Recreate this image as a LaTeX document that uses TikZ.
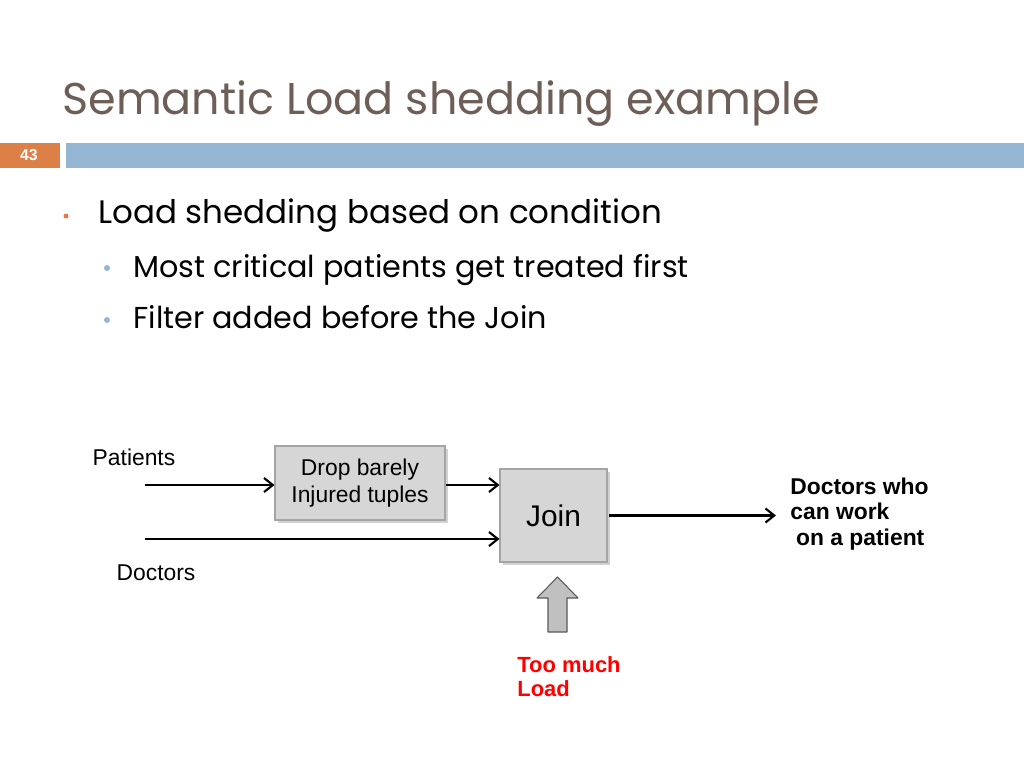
\documentclass[tikz,border=0pt]{standalone}
\usepackage{fontspec}
\setmainfont{Liberation Sans}
\newfontfamily\slidefont[Ligatures={NoCommon,NoRequired}]{Poppins}
\usepackage{xcolor}
\usepackage{tikz}
\usetikzlibrary{arrows.meta,shadows}
\definecolor{titlecolor}{RGB}{110,94,88}
\definecolor{pagecolor}{RGB}{221,128,71}
\definecolor{barcolor}{RGB}{148,182,210}
\definecolor{boxfill}{RGB}{214,214,214}
\definecolor{boxline}{RGB}{165,165,165}
\definecolor{loadfill}{RGB}{192,192,192}
\definecolor{loadline}{RGB}{90,90,90}
\tikzset{opnode/.style={draw=boxline,fill=boxfill,line width=0.6pt,align=center,inner sep=0pt,
		drop shadow={shadow xshift=1.5pt,shadow yshift=-1.5pt,opacity=0.35}}}
\tikzset{flow/.style={line width=1.2pt,-{Straight Barb[length=5pt,width=8pt,line width=1.2pt]}}}
\tikzset{streamlabel/.style={font=\fontsize{13}{15}\selectfont,inner sep=0pt}}
\tikzset{bullettext/.style={anchor=base west,inner sep=0pt}}

\begin{document}
\begin{tikzpicture}[x=0.02cm,y=-0.02cm]
		\useasboundingbox[fill=white] (0,0) rectangle (1024,768);
		%
		\node[bullettext,text=titlecolor,font=\slidefont\fontsize{25.3}{28}\selectfont] (title) at (62,114) {Semantic Load shedding example};
		\fill[pagecolor] (0,143) rectangle (60,168);
		\fill[barcolor] (66,143) rectangle (1024,168);
		\node[text=white,font=\bfseries\fontsize{9}{10}\selectfont] (page) at (29,155.5) {43};
		%
		\fill[pagecolor] (66,216) circle (2.5);
		\fill[barcolor] (107,268) circle (3);
		\fill[barcolor] (107,320) circle (3);
		\node[bullettext,font=\slidefont\fontsize{18.5}{21}\selectfont] (b1) at (98,223) {Load shedding based on condition};
		\node[bullettext,font=\slidefont\fontsize{17.2}{20}\selectfont] (b2) at (133,277) {Most critical patients get treated first};
		\node[bullettext,font=\slidefont\fontsize{17.2}{20}\selectfont] (b3) at (133,328) {Filter added before the Join};
		%
		\node[opnode,minimum width=3.4cm,minimum height=1.48cm,font=\fontsize{13}{15}\selectfont] (drop) at (360,483) {Drop barely\\Injured tuples};
		\node[opnode,minimum width=2.14cm,minimum height=1.86cm,font=\fontsize{17}{20}\selectfont] (join) at (553.5,515.5) {Join};
		%
		\node[streamlabel] (patients) at (134,457) {Patients};
		\node[streamlabel] (doctors) at (156,573) {Doctors};
		\node[streamlabel,anchor=west,align=left,font=\bfseries\fontsize{13}{14.7}\selectfont] (result) at (790,514) {Doctors who\\can work\\\hspace*{3.3pt}on a patient};
		\node[streamlabel,anchor=north west,align=left,text=red,font=\bfseries\fontsize{12.5}{14}\selectfont] (load) at (517,656) {Too much\\Load};
		%
		\coordinate (pin) at (145,485);
		\coordinate (din) at (145,539);
		\draw[flow] (pin) -- (drop.west |- pin);
		\draw[flow] (drop.east |- pin) -- (join.west |- pin);
		\draw[flow] (din) -- (join.west |- din);
		\draw[flow] ([xshift=1pt]join.east) -- ([xshift=-8pt]result.west |- join.east);
		%
		\draw[fill=loadfill,draw=loadline,line width=0.6pt,line join=round] (557.5,577) -- (578,598) -- (567,598) -- (567,632) -- (548,632) -- (548,598) -- (537,598) -- cycle;
	\end{tikzpicture}
\end{document}
